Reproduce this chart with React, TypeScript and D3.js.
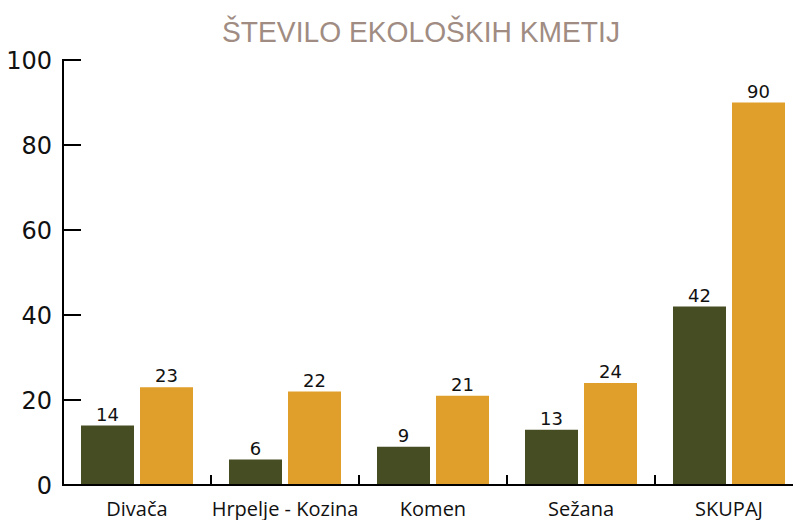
import React from "react";
import * as d3 from "d3";

const categories = ["Divača", "Hrpelje - Kozina", "Komen", "Sežana", "SKUPAJ"];
const series = ["s1", "s2"];
const seriesA = [14, 6, 9, 13, 42];
const seriesB = [23, 22, 21, 24, 90];
const yTicks = [0, 20, 40, 60, 80, 100];
const title = "ŠTEVILO EKOLOŠKIH KMETIJ";

const colors = ["#474d22", "#df9f2a"];

export default function App() {
  const W = 793, H = 520;
  const x0 = 63;
  const x = d3.scaleBand<string>().domain(categories).range([x0, x0 + 148 * categories.length]).paddingInner(0).paddingOuter(0);
  const xs = d3.scaleBand<string>().domain(series).range([0, x.bandwidth()]).paddingInner(0.1017).paddingOuter(0.305);
  const y = d3.scaleLinear().domain([0, 100]).range([485, 60]);
  const data = [seriesA, seriesB];
  const numFont = "'DejaVu Sans', sans-serif";
  const catFont = "'Open Sans', sans-serif";

  return (
    <svg width={W} height={H} style={{ position: "absolute", left: 0, top: 0, background: "#fff" }}>
      <text x={421} y={42} textAnchor="middle" fill="#a08c82" fontFamily="'Liberation Sans', Arial, sans-serif" fontSize={30} textLength={398} lengthAdjust="spacingAndGlyphs">{title}</text>
      {categories.map((c, i) =>
        data.map((d, si) => {
          const bx = (x(c) as number) + (xs(series[si]) as number);
          const v = d[i];
          return (
            <g key={c + si}>
              <rect x={bx} y={y(v)} width={xs.bandwidth()} height={y(0) - y(v)} fill={colors[si]} />
              <text x={bx + xs.bandwidth() / 2} y={y(v) - 5} textAnchor="middle" fontFamily={numFont} fontSize={18} fill="#111">{v}</text>
            </g>
          );
        })
      )}
      {/* y axis */}
      <line x1={x0} x2={x0} y1={y(100) - 1} y2={y(0)} stroke="#000" strokeWidth={2} />
      {yTicks.map((t) => (
        <g key={t}>
          {t > 0 && <line x1={x0} x2={x0 + 18} y1={y(t)} y2={y(t)} stroke="#000" strokeWidth={2} />}
          <text x={52} y={y(t)} dy="0.36em" textAnchor="end" fontFamily={numFont} fontSize={24} fill="#111">{t}</text>
        </g>
      ))}
      {/* x axis */}
      <line x1={x0 - 1} x2={W} y1={y(0)} y2={y(0)} stroke="#000" strokeWidth={2} />
      {categories.slice(1).map((c) => (
        <line key={"sep" + c} x1={x(c) as number} x2={x(c) as number} y1={y(0)} y2={y(0) - 10} stroke="#000" strokeWidth={2} />
      ))}
      {categories.map((c) => (
        <text key={"lab" + c} x={(x(c) as number) + x.bandwidth() / 2} y={516} textAnchor="middle" fontFamily={catFont} fontSize={20} fill="#111">{c}</text>
      ))}
    </svg>
  );
}
